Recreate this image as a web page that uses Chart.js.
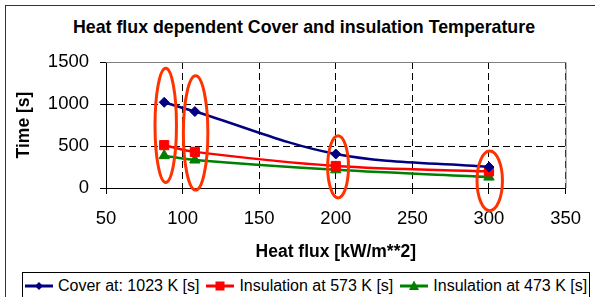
<!DOCTYPE html>
<html>
<head>
<meta charset="utf-8">
<script src="https://cdn.jsdelivr.net/npm/chart.js@4.4.0/dist/chart.umd.min.js"></script>
<style>
    html, body { margin: 0; padding: 0; background: #fff; overflow: hidden; }
    body { width: 595px; height: 297px; position: relative; font-family: "Liberation Sans", Arial, sans-serif; }
    #frame { position: absolute; left: 5px; top: 5px; width: 700px; height: 400px; border-left: 1px solid #333; border-top: 1px solid #333; }
    #titel { position: absolute; left: 0; top: 16px; width: 608px; text-align: center; font-weight: bold; font-size: 17.8px; line-height: 22px; color: #000; }
    #wrap { position: absolute; left: 0; top: 0; width: 595px; height: 297px; }
    #legende { position: absolute; left: 22px; top: 272px; width: 566px; height: 32px; border: 1px solid #000; background: #fff;
        display: flex; align-items: flex-start; font-size: 16px; color: #000; }
    .item { display: flex; align-items: center; height: 26px; }
    .item svg { margin-right: 5px; }
</style>
</head>
<body>
<div id="frame"></div>
<div id="titel">Heat flux dependent Cover and insulation Temperature</div>
<div id="wrap"><canvas id="grafik" width="595" height="297"></canvas></div>
<div id="legende"></div>

<script>
// Werte
const heatFlux = [88, 108, 200, 300];
const coverTime = [1020, 910, 405, 250];
const insul573 = [510, 430, 262, 198];
const insul473 = [385, 333, 216, 130];

const xTicks = [50, 100, 150, 200, 250, 300, 350];
const yTicks = [0, 500, 1000, 1500];

// rote Markierungen (Mitte und Halbachsen in Datenwerten)
const ringX = [89, 108.5, 201.5, 300.5];
const ringY = [745, 655, 252, 85];
const ringRx = [7, 8, 6.8, 8.3];
const ringRy = [680, 680, 370, 355];

const serien = [
    { label: 'Cover at: 1023 K [s]', data: coverTime, color: '#000080', style: 'rectRot', r: 5 },
    { label: 'Insulation at 573 K [s]', data: insul573, color: '#FF0000', style: 'rect', r: 6.5 },
    { label: 'Insulation at 473 K [s]', data: insul473, color: '#008000', style: 'triangle', r: 6 }
];

const FONT = '"Liberation Sans", Arial, sans-serif';

const rahmenPlugin = {
    id: 'rahmen',
    beforeDatasetsDraw(chart) {
        const { ctx, chartArea: a } = chart;
        ctx.save();
        ctx.strokeStyle = '#808080';
        ctx.lineWidth = 1;
        ctx.beginPath();
        ctx.moveTo(a.left, a.top + 0.5);
        ctx.lineTo(a.right + 0.5, a.top + 0.5);
        ctx.lineTo(a.right + 0.5, a.bottom);
        ctx.stroke();
        ctx.restore();
    }
};

const ringPlugin = {
    id: 'ringe',
    afterDatasetsDraw(chart) {
        const { ctx } = chart;
        const x = chart.scales.x, y = chart.scales.y;
        ctx.save();
        ctx.strokeStyle = '#FF3300';
        ctx.lineWidth = 3;
        ringX.forEach((v, i) => {
            const cx = x.getPixelForValue(v);
            const cy = y.getPixelForValue(ringY[i]);
            const rx = Math.abs(x.getPixelForValue(v + ringRx[i]) - cx);
            const ry = Math.abs(y.getPixelForValue(ringY[i] + ringRy[i]) - cy);
            ctx.beginPath();
            ctx.ellipse(cx, cy, rx, ry, 0, 0, Math.PI * 2);
            ctx.stroke();
        });
        ctx.restore();
    }
};

new Chart(document.getElementById('grafik').getContext('2d'), {
    type: 'line',
    data: {
        datasets: serien.map(s => ({
            label: s.label,
            data: heatFlux.map((h, i) => ({ x: h, y: s.data[i] })),
            borderColor: s.color,
            backgroundColor: s.color,
            borderWidth: 2.5,
            pointStyle: s.style,
            pointRadius: s.r,
            pointBorderWidth: 1,
            tension: 0.35,
            fill: false
        }))
    },
    options: {
        responsive: false,
        animation: false,
        layout: { padding: { top: 62, right: 19, bottom: 29, left: 0 } },
        plugins: { legend: { display: false }, title: { display: false }, tooltip: { enabled: false } },
        scales: {
            x: {
                type: 'linear', min: 50, max: 350,
                afterFit: s => { s.height = 80; },
                afterBuildTicks: s => { s.ticks = xTicks.map(v => ({ value: v })); },
                ticks: { color: '#000', padding: 14, font: { family: FONT, size: 18.5 }, callback: v => String(v) },
                grid: { color: '#000', tickColor: '#000', tickLength: 6, lineWidth: 1 },
                border: { color: '#000', dash: [7, 4], width: 1 },
                title: { display: true, text: 'Heat flux [kW/m**2]', color: '#000', padding: { top: 0, bottom: 5.5 },
                    font: { family: FONT, size: 17.5, weight: 'bold' } }
            },
            y: {
                min: 0, max: 1500,
                afterFit: s => { s.width = 106; },
                afterBuildTicks: s => { s.ticks = yTicks.map(v => ({ value: v })); },
                ticks: { color: '#000', padding: 11, font: { family: FONT, size: 18.5 }, callback: v => String(v) },
                grid: { color: '#000', tickColor: '#000', tickLength: 6, lineWidth: 1 },
                border: { color: '#000', dash: [7, 4], width: 1 },
                title: { display: true, text: 'Time [s]', color: '#000', padding: { top: 13.5, bottom: 0 },
                    font: { family: FONT, size: 17.5, weight: 'bold' } }
            }
        }
    },
    plugins: [rahmenPlugin, ringPlugin]
});

// Legende wie im Original: Linie mit Marker
function markerSvg(s) {
    let m = '';
    if (s.style === 'rectRot') m = `<polygon points="14,6 18,10 14,14 10,10" fill="${s.color}"/>`;
    else if (s.style === 'rect') m = `<rect x="9.5" y="5.5" width="9" height="9" fill="${s.color}"/>`;
    else m = `<polygon points="14,4.5 19,14 9,14" fill="${s.color}"/>`;
    return `<svg width="28" height="20"><line x1="0" y1="10" x2="28" y2="10" stroke="${s.color}" stroke-width="3"/>${m}</svg>`;
}
const legende = document.getElementById('legende');
serien.forEach((s, i) => {
    const d = document.createElement('div');
    d.className = 'item';
    d.style.marginLeft = i === 0 ? '2px' : '7px';
    d.innerHTML = markerSvg(s) + `<span>${s.label}</span>`;
    legende.appendChild(d);
});
</script>
</body>
</html>
